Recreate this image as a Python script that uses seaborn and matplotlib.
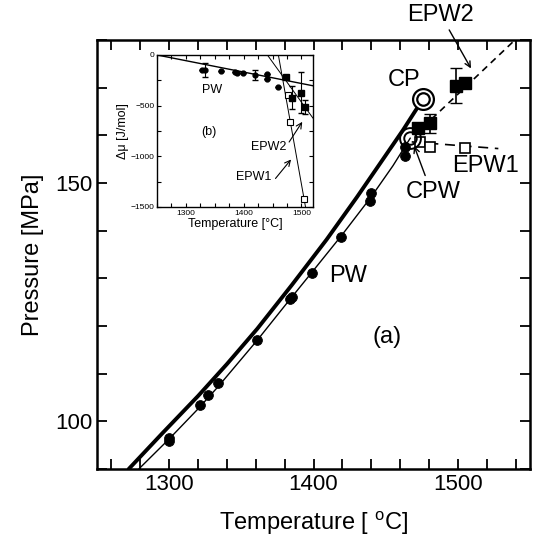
import numpy as np
import seaborn as sns
import matplotlib.pyplot as plt
from matplotlib.ticker import MultipleLocator

sns.set_style("ticks")
plt.rcParams['font.family'] = ['Liberation Sans', 'DejaVu Sans']
plt.rcParams['mathtext.fontset'] = 'custom'
plt.rcParams['mathtext.rm'] = 'Liberation Sans'
for key in ('text.color', 'axes.labelcolor', 'xtick.color', 'ytick.color', 'axes.edgecolor'):
    plt.rcParams[key] = 'black'

# ---- main panel (a): P-T phase lines ----
cp_line_T = [1272, 1295, 1320, 1340, 1361, 1385, 1409, 1430, 1445, 1462, 1476]
cp_line_P = [90, 97.4, 105.3, 112.0, 119.4, 128.6, 138.1, 147.0, 153.6, 161.1, 167.7]

pw_line_T = [1279, 1300, 1320, 1334, 1361, 1380, 1399, 1420, 1440, 1455, 1467]
pw_line_P = [90, 96.3, 102.6, 107.3, 117, 124.2, 131.3, 139.2, 147.1, 153.6, 159.4]

pw_pts_T = [1300, 1300, 1321, 1327, 1334, 1361, 1384, 1385, 1399, 1419, 1439, 1440, 1463, 1463]
pw_pts_P = [96.5, 95.8, 103.5, 105.6, 108, 117, 125.6, 126, 131.2, 138.75, 146.2, 147.9, 155.6, 157.5]

epw2_T = [1472, 1481, 1499, 1505]
epw2_P = [161.5, 162.5, 170.4, 171]
epw2_err = [0, 2.0, 3.7, 0]

epw1_T = [1474, 1481, 1505]
epw1_P = [158.5, 157.5, 157.3]

epw1_dash_T = [1468, 1528]
epw1_dash_P = [158.6, 157.2]
epw2_dash_T = [1470, 1550]
epw2_dash_P = [160, 183]

cp_T, cp_P = 1476, 167.7
cpw_T, cpw_P = 1467, 159.4

# ---- inset panel (b): chemical potential difference ----
pw_mu_T = [1328, 1333, 1361, 1385, 1388, 1398, 1420, 1440, 1441, 1460]
pw_mu = [-147, -150, -157, -167, -175, -176, -196, -235, -186, -314]
pw_mu_err = [0, 70, 0, 0, 0, 0, 50, 0, 0, 0]

epw2_mu_T = [1473, 1483, 1499, 1506]
epw2_mu = [-216, -421, -372, -510]
epw2_mu_err = [0, 110, 200, 70]

epw1_mu_T = [1476, 1480, 1504]
epw1_mu = [-392, -666, -1421]

pw_fit_T, pw_fit_mu = [1250, 1520], [0, -304]
epw2_fit_T, epw2_fit_mu = [1441, 1520], [0, -624]
epw1_fit_T, epw1_fit_mu = [1460, 1507], [0, -1500]

fig = plt.figure(figsize=(5.36, 5.39), dpi=100)
ax = fig.add_axes([0.181, 0.130, 0.808, 0.796])

sns.lineplot(x=cp_line_T, y=cp_line_P, ax=ax, color='k', lw=2.8, sort=False, estimator=None)
sns.lineplot(x=pw_line_T, y=pw_line_P, ax=ax, color='k', lw=1.0, sort=False, estimator=None)
sns.lineplot(x=epw2_dash_T, y=epw2_dash_P, ax=ax, color='k', lw=1.2, sort=False, estimator=None,
             linestyle=(0, (4, 3)))
sns.lineplot(x=epw1_dash_T, y=epw1_dash_P, ax=ax, color='k', lw=1.2, sort=False, estimator=None,
             linestyle=(0, (6, 4)))
sns.scatterplot(x=pw_pts_T, y=pw_pts_P, ax=ax, color='k', s=50, marker='o', edgecolor='k', zorder=4)
ax.errorbar(epw2_T, epw2_P, yerr=epw2_err, fmt='s', color='k', ms=8, capsize=4, lw=1.2, zorder=5)
ax.plot(epw1_T, epw1_P, 's', mfc='white', mec='k', ms=7, mew=1.2, zorder=5)
for ms in (15, 9):
    ax.plot(cp_T, cp_P, 'o', mfc='white', mec='k', ms=ms, mew=1.6, zorder=6)
    ax.plot(cpw_T, cpw_P, 'o', mfc='none', mec='k', ms=ms, mew=1.4, zorder=6)

ax.set_xlim(1250, 1550)
ax.set_ylim(90, 180)
ax.xaxis.set_major_locator(MultipleLocator(100))
ax.xaxis.set_minor_locator(MultipleLocator(20))
ax.yaxis.set_major_locator(MultipleLocator(50))
ax.yaxis.set_minor_locator(MultipleLocator(10))
ax.tick_params(which='both', direction='in', top=True, right=True, width=1.3, labelsize=16, length=7)
for s in ax.spines.values():
    s.set_linewidth(1.8)
ax.set_xlabel('Temperature [ $^{\\rm o}$C]', fontsize=17, labelpad=10)
ax.set_ylabel('Pressure [MPa]', fontsize=17, labelpad=8)

ax.text(1463, 171.5, 'CP', fontsize=17, ha='center', va='center')
ax.text(1483, 148, 'CPW', fontsize=17, ha='center', va='center')
ax.text(1519, 153.6, 'EPW1', fontsize=17, ha='center', va='center')
ax.text(1488, 185.3, 'EPW2', fontsize=17, ha='center', va='center', clip_on=False)
ax.text(1424, 130.4, 'PW', fontsize=17, ha='center', va='center')
ax.text(1451, 117.7, '(a)', fontsize=17, ha='center', va='center')
ax.annotate('', xy=(1510, 173.5), xytext=(1493, 182.6), annotation_clip=False,
            arrowprops=dict(arrowstyle='->', color='k', lw=1.0))
ax.annotate('', xy=(1469, 158.3), xytext=(1478, 151), arrowprops=dict(arrowstyle='->', color='k', lw=1.0))

# inset
ins = fig.add_axes([0.293, 0.616, 0.291, 0.282])
sns.lineplot(x=pw_fit_T, y=pw_fit_mu, ax=ins, color='k', lw=1.0, estimator=None)
sns.lineplot(x=epw2_fit_T, y=epw2_fit_mu, ax=ins, color='k', lw=0.7, estimator=None)
sns.lineplot(x=epw1_fit_T, y=epw1_fit_mu, ax=ins, color='k', lw=0.7, estimator=None)
ins.errorbar(pw_mu_T, pw_mu, yerr=pw_mu_err, fmt='o', color='k', ms=3.5, capsize=2, lw=0.8, zorder=4)
ins.errorbar(epw2_mu_T, epw2_mu, yerr=epw2_mu_err, fmt='s', color='k', ms=4, capsize=2, lw=0.8, zorder=5)
ins.plot(epw1_mu_T, epw1_mu, 's', mfc='white', mec='k', ms=4, mew=0.8, zorder=5)

ins.set_xlim(1250, 1520)
ins.set_ylim(-1500, 0)
ins.xaxis.set_major_locator(MultipleLocator(100))
ins.xaxis.set_minor_locator(MultipleLocator(25))
ins.yaxis.set_major_locator(MultipleLocator(500))
ins.yaxis.set_minor_locator(MultipleLocator(250))
ins.tick_params(which='both', direction='in', top=True, right=True, length=3, width=0.8,
                labelsize=6, pad=2)
for s in ins.spines.values():
    s.set_linewidth(1.0)
ins.set_xlabel('Temperature [°C]', fontsize=9, labelpad=1)
ins.set_ylabel('Δμ [J/mol]', fontsize=9, labelpad=1)
ins.text(1346, -343, 'PW', fontsize=9, ha='center', va='center')
ins.text(1339, -765, '(b)', fontsize=9, ha='center', va='center')
ins.text(1443, -905, 'EPW2', fontsize=9, ha='center', va='center')
ins.text(1417, -1200, 'EPW1', fontsize=9, ha='center', va='center')
ins.annotate('', xy=(1504, -637), xytext=(1476, -882), arrowprops=dict(arrowstyle='->', color='k', lw=0.8))
ins.annotate('', xy=(1485, -1010), xytext=(1452, -1240), arrowprops=dict(arrowstyle='->', color='k', lw=0.8))

fig.savefig('out.png', dpi=100)
